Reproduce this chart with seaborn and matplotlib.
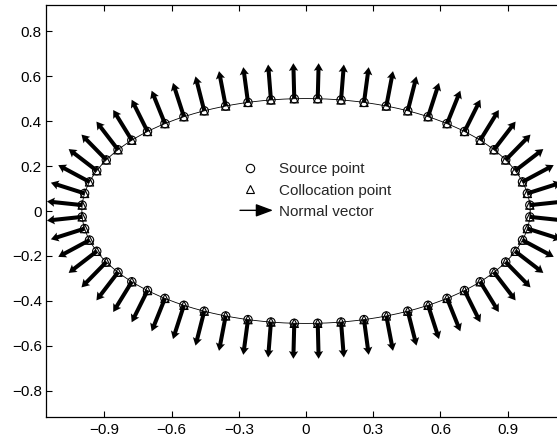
import numpy as np
import pandas as pd
import matplotlib
matplotlib.use("Agg")
import matplotlib.pyplot as plt
import seaborn as sns
from matplotlib.lines import Line2D
from matplotlib.patches import FancyArrowPatch
from matplotlib.legend_handler import HandlerBase

# Ellipse boundary: semi-axes
semi_major = 1.0
semi_minor = 0.5

# Parameter angles (degrees) of the boundary nodes
theta_deg = [3, 9, 15, 21, 27, 33, 39, 45, 51, 57,
             63, 69, 75, 81, 87, 93, 99, 105, 111, 117,
             123, 129, 135, 141, 147, 153, 159, 165, 171, 177,
             183, 189, 195, 201, 207, 213, 219, 225, 231, 237,
             243, 249, 255, 261, 267, 273, 279, 285, 291, 297,
             303, 309, 315, 321, 327, 333, 339, 345, 351, 357]

# Drawn length of each normal vector
normal_length = 0.158

xticks = [-0.9, -0.6, -0.3, 0, 0.3, 0.6, 0.9]
yticks = [-0.8, -0.6, -0.4, -0.2, 0, 0.2, 0.4, 0.6, 0.8]

sns.set_theme(style="ticks")
plt.rcParams["font.family"] = ["Liberation Sans", "DejaVu Sans"]
plt.rcParams["axes.unicode_minus"] = True

th = np.deg2rad(np.array(theta_deg, dtype=float))
nodes = pd.DataFrame({
    "x": semi_major * np.cos(th),
    "y": semi_minor * np.sin(th),
})
# outward unit normal of the ellipse at each node
nx = np.cos(th) / semi_major
ny = np.sin(th) / semi_minor
nn = np.hypot(nx, ny)
nodes["u"] = normal_length * nx / nn
nodes["v"] = normal_length * ny / nn

tt = np.linspace(0, 2 * np.pi, 400)
curve = pd.DataFrame({"x": semi_major * np.cos(tt), "y": semi_minor * np.sin(tt)})

W, H = 557, 440
fig = plt.figure(figsize=(W / 100, H / 100), dpi=100)
ax = fig.add_axes([46 / W, 1 - 417 / H, (566 - 46) / W, (417 - 5) / H])

sns.lineplot(data=curve, x="x", y="y", sort=False, estimator=None, color="black",
             lw=0.6, ax=ax, legend=False)

ax.quiver(nodes["x"], nodes["y"], nodes["u"], nodes["v"],
          angles="xy", scale_units="xy", scale=1, units="xy",
          width=0.018, headwidth=2.3, headlength=1.9, headaxislength=1.7,
          color="black", zorder=3)

sns.scatterplot(data=nodes, x="x", y="y", marker="o", s=36, facecolor="none",
                edgecolor="black", linewidth=0.8, ax=ax, zorder=4)
sns.scatterplot(data=nodes, x="x", y="y", marker="^", s=36, facecolor="none",
                edgecolor="black", linewidth=0.8, ax=ax, zorder=4)

ax.set_xlim(-1.16, 1.16)
ax.set_ylim(-0.916, 0.916)
ax.set_xticks(xticks)
ax.set_yticks(yticks)
ax.set_xticklabels([f"{v:g}".replace("-", "\u2212") for v in xticks])
ax.set_yticklabels([f"{v:g}".replace("-", "\u2212") for v in yticks])
ax.set_xlabel("")
ax.set_ylabel("")
ax.tick_params(direction="in", length=4, width=0.8, labelsize=11, colors="black",
               top=True, right=True)
ax.tick_params(axis="x", pad=4)
ax.tick_params(axis="y", pad=3)
for sp in ax.spines.values():
    sp.set_linewidth(0.9)
    sp.set_color("black")


class ArrowHandler(HandlerBase):
    def create_artists(self, legend, orig_handle, xdescent, ydescent,
                       width, height, fontsize, trans):
        y = height / 2 - ydescent
        arr = FancyArrowPatch((-xdescent, y), (-xdescent + width, y),
                              arrowstyle="-|>,head_length=0.75,head_width=0.28",
                              mutation_scale=14, lw=1.0, color="black",
                              shrinkA=0, shrinkB=0, transform=trans)
        return [arr]


class MarkerHandler(HandlerBase):
    """Single marker placed near the left of the handle box."""
    def create_artists(self, legend, orig_handle, xdescent, ydescent,
                       width, height, fontsize, trans):
        y = height / 2 - ydescent
        m = Line2D([-xdescent + 0.3 * width], [y], ls="none",
                   marker=orig_handle.get_marker(), ms=orig_handle.get_markersize(),
                   mfc="none", mec="black", mew=orig_handle.get_markeredgewidth(),
                   transform=trans)
        return [m]


h_src = Line2D([], [], ls="none", marker="o", ms=6, mfc="none", mec="black", mew=0.8)
h_col = Line2D([], [], ls="none", marker="^", ms=6, mfc="none", mec="black", mew=0.8)
h_arr = Line2D([], [])
leg = ax.legend([h_src, h_col, h_arr], ["Source point", "Collocation point", "Normal vector"],
                handler_map={h_arr: ArrowHandler(), h_src: MarkerHandler(), h_col: MarkerHandler()},
                loc="center left", bbox_to_anchor=(240 / W, 1 - 190.5 / H),
                bbox_transform=fig.transFigure, frameon=False, fontsize=11,
                handlelength=2.16, handletextpad=0.4, labelspacing=0.47,
                borderpad=0, borderaxespad=0)

fig.savefig("out.png", dpi=100)
